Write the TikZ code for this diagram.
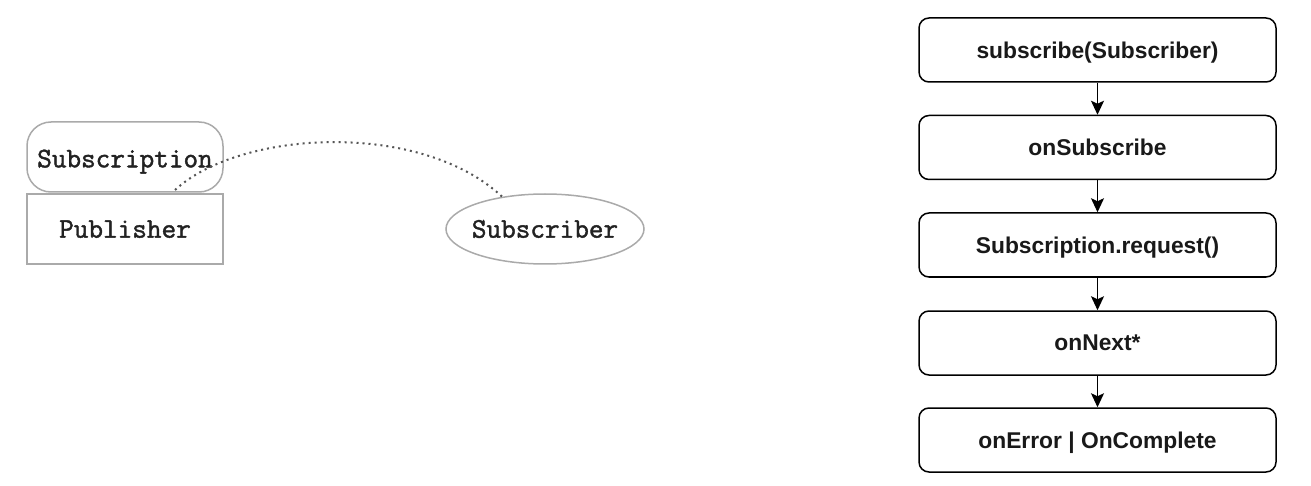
\documentclass[tikz,border=0pt]{standalone}
\usepackage{fontspec}
\setmainfont{Liberation Sans}
\newfontfamily\monofont[FakeBold=1.5]{Latin Modern Mono}
\usetikzlibrary{arrows.meta,shapes.geometric}
\definecolor{grayline}{HTML}{AAAAAA}
\definecolor{monotext}{HTML}{222222}
\definecolor{dotcol}{HTML}{555555}
\tikzset{
  flowbox/.style={draw=black, line width=0.75pt, rounded corners=5pt, minimum width=178.5pt, minimum height=32pt, inner sep=0pt, text depth=0pt, font=\fontsize{11.4pt}{13pt}\selectfont\bfseries, text=black!90},
  flowarrow/.style={draw=black, line width=0.75pt, -{Stealth[length=7pt,width=6.5pt,inset=1.5pt]}},
  monotxt/.style={font=\monofont\fontsize{14.2pt}{16pt}\selectfont, text=monotext},
  leftbox/.style={draw=grayline, line width=0.75pt, minimum width=98pt, minimum height=35pt, inner sep=0pt, text depth=0pt, monotxt},
  dotline/.style={draw=dotcol, line width=1pt, dotted}
}
\begin{document}
\begin{tikzpicture}[x=0.5pt,y=-0.5pt]
\useasboundingbox[fill=white] (0,0) rectangle (1311,486);
% left part
\node[leftbox] (pub) at (125,229) {Publisher};
\node[leftbox, rounded corners=12pt] (subn) at (125,157) {\raisebox{-1.5pt}{Subscription}};
\node[draw=grayline, line width=0.75pt, ellipse, minimum width=99pt, minimum height=35pt, inner sep=0pt, monotxt] (subr) at (545,229) {\makebox[60pt]{Subscriber}};
\coordinate (s1) at (175,190);
\draw[dotline] (s1) .. controls (240,130) and (420,120) .. (subr.143);
% right part
\node[flowbox] (b1) at (1097.5,50) {subscribe(Subscriber)};
\node[flowbox] (b2) at (1097.5,147.5) {onSubscribe};
\node[flowbox] (b3) at (1097.5,245) {Subscription.request()};
\node[flowbox] (b4) at (1097.5,343) {onNext*};
\node[flowbox] (b5) at (1097.5,440) {onError | OnComplete};
\draw[flowarrow] (b1) -- (b2);
\draw[flowarrow] (b2) -- (b3);
\draw[flowarrow] (b3) -- (b4);
\draw[flowarrow] (b4) -- (b5);
\end{tikzpicture}
\end{document}
